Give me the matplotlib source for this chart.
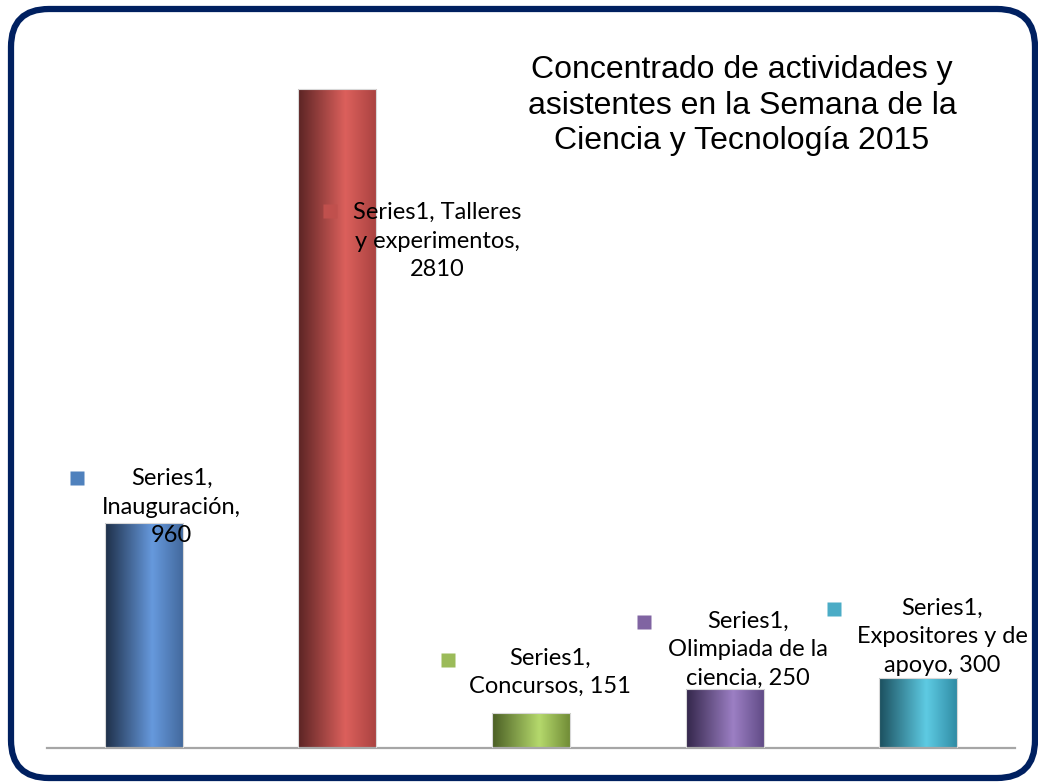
import numpy as np
import matplotlib

matplotlib.use("Agg")
import matplotlib.pyplot as plt
from matplotlib.colors import LinearSegmentedColormap
from matplotlib.patches import FancyBboxPatch, Rectangle
from matplotlib.transforms import offset_copy

# datos del gráfico
series_name = "Series1"
categorias = ["Inauguración", "Talleres y experimentos", "Concursos",
              "Olimpiada de la ciencia", "Expositores y de apoyo"]
asistentes = [960, 2810, 151, 250, 300]

# textos de las etiquetas tal como se cortan en la imagen original
etiquetas = [
    "Series1,\nInauguración,\n960",
    "Series1, Talleres\ny experimentos,\n2810",
    "Series1,\nConcursos, 151",
    "Series1,\nOlimpiada de la\nciencia, 250",
    "Series1,\nExpositores y de\napoyo, 300",
]

titulo = "Concentrado de actividades y\nasistentes en la Semana de la\nCiencia y Tecnología 2015"

# colores (oscuro izq., brillo, lado der.) y color de la clave
gradientes = [
    ("#1e2f48", "#6699dd", "#42689b"),
    ("#5b2424", "#dc605c", "#a94240"),
    ("#4a5e24", "#b5d96c", "#6f8a35"),
    ("#33264a", "#9c7fc4", "#5f4a85"),
    ("#1b4f5e", "#5ecbe3", "#2f8aa3"),
]
claves = ["#4f81bd", "#c0504d", "#9bbb59", "#8064a2", "#4bacc6"]

# desplazamientos de etiquetas respecto a la parte superior de cada barra (px)
txt_off = [(28, 55), (100, -113), (19, 65), (23, 79), (24, 80)]
key_off = [(-67, 45), (-7, -122), (-83, 53), (-81, 67), (-84, 69)]

W, H, DPI = 1038, 782, 100
fig = plt.figure(figsize=(W / DPI, H / DPI), dpi=DPI)

# fondo con el marco redondeado
bg = fig.add_axes([0, 0, 1, 1])
bg.set_xlim(0, W)
bg.set_ylim(H, 0)
bg.axis("off")
bg.add_patch(FancyBboxPatch((11, 9), 1024, 769,
                            boxstyle="round,pad=0,rounding_size=38",
                            facecolor="white", edgecolor="#002060", linewidth=4.5))
bg.text(742, 55, titulo, ha="center", va="top", fontsize=23,
        family="Liberation Sans", color="#000000", linespacing=1.24)

# área del gráfico
ax = fig.add_axes([47 / W, 34 / H, 968 / W, 703.5 / H])
ax.patch.set_alpha(0)
x = np.arange(len(categorias))
ancho = 0.403
ax.set_xlim(-0.5, len(categorias) - 0.5)
ax.set_ylim(0, 3000)
for s in ["top", "left", "right"]:
    ax.spines[s].set_visible(False)
ax.spines["bottom"].set_color("#a6a6a6")
ax.spines["bottom"].set_linewidth(1.6)
ax.set_xticks([])
ax.set_yticks([])

grad = np.linspace(0, 1, 256).reshape(1, -1)
for i, (v, (c0, c1, c2)) in enumerate(zip(asistentes, gradientes)):
    cmap = LinearSegmentedColormap.from_list(f"g{i}", [(0, c0), (0.6, c1), (1, c2)])
    im = ax.imshow(grad, cmap=cmap, aspect="auto", interpolation="bicubic",
                   extent=[x[i] - ancho / 2, x[i] + ancho / 2, 0, v], zorder=2)
    rect = Rectangle((x[i] - ancho / 2, 0), ancho, v, facecolor="none",
                     edgecolor="#d8d8d8", linewidth=0.8, zorder=3)
    ax.add_patch(rect)
    im.set_clip_path(rect)

for i, v in enumerate(asistentes):
    kx, ky = key_off[i]
    tr = offset_copy(ax.transData, fig=fig, x=kx, y=ky, units="dots")
    ax.plot([x[i]], [v], marker="s", ms=10.5, color=claves[i], mec="none",
            transform=tr, zorder=4, clip_on=False)
    tx, ty = txt_off[i]
    tr = offset_copy(ax.transData, fig=fig, x=tx, y=ty, units="dots")
    ax.text(x[i], v, etiquetas[i], transform=tr, ha="center", va="top",
            fontsize=17, family="Lato", color="#000000", linespacing=1.45,
            zorder=5, clip_on=False)

fig.savefig("out.png", dpi=DPI)
